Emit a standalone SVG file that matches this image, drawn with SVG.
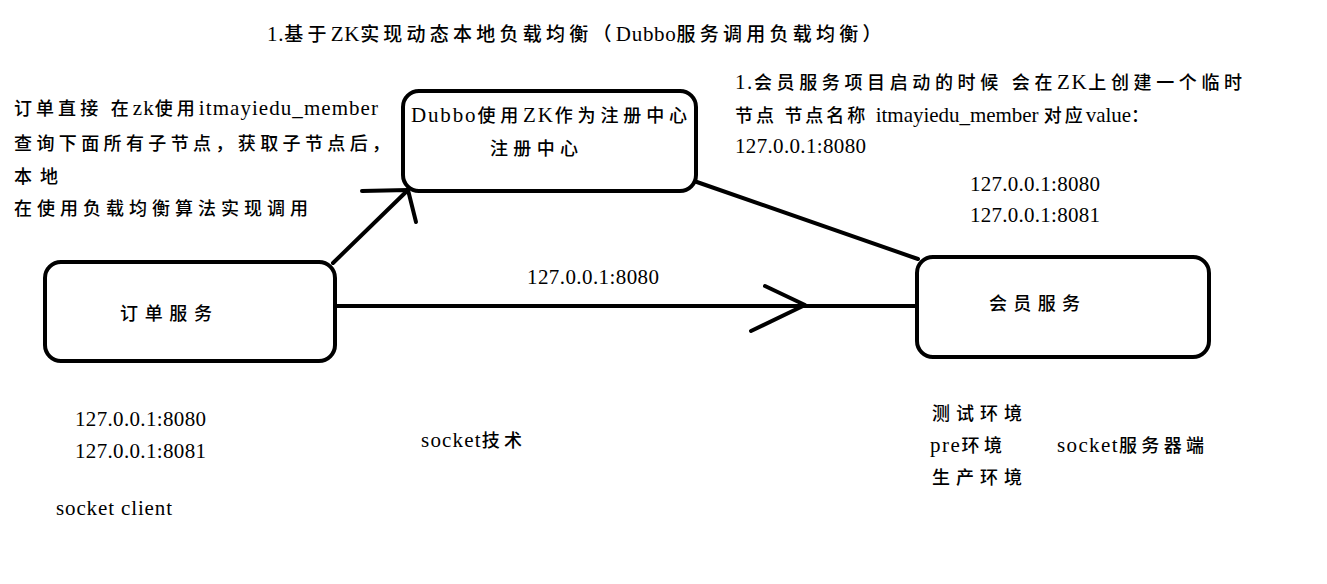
<svg xmlns="http://www.w3.org/2000/svg" width="1327" height="584" viewBox="0 0 1327 584">
<style>
.box{fill:#fff;stroke:#000;stroke-width:4}
.ln{fill:none;stroke:#000;stroke-width:4;stroke-linecap:round;stroke-linejoin:round}
text{font-family:"Liberation Serif","Noto Sans CJK SC",serif;font-size:21px;fill:#000}
.cj{font-size:18px;font-weight:500}
.c{font-size:18px;font-weight:500;letter-spacing:3px}
.tc{font-size:19px;font-weight:500;letter-spacing:3.5px}
</style>
<rect width="1327" height="584" fill="#fff"/>
<g id="connectors">
<line class="ln" x1="333" y1="263" x2="408" y2="190"/>
<polyline class="ln" points="362,191 408,190 416,222"/>
<line class="ln" x1="694" y1="181" x2="918" y2="259"/>
<line class="ln" x1="335" y1="306" x2="917" y2="306"/>
<polyline class="ln" points="765,286 805,305 751,331"/>
<text x="527" y="284" textLength="132" lengthAdjust="spacing">127.0.0.1:8080</text>
</g>
<g id="registry">
<rect class="box" x="403" y="91" width="293" height="100" rx="16"/>
<text x="411" y="122" textLength="279" lengthAdjust="spacing">Dubbo<tspan class="c">使用</tspan>ZK<tspan class="c">作为注册中心</tspan></text>
<text class="cj" x="490" y="155" textLength="88" lengthAdjust="spacing">注册中心</text>
</g>
<g id="order">
<rect class="box" x="45" y="262" width="290" height="99" rx="16"/>
<text class="cj" x="120" y="320" textLength="92" lengthAdjust="spacing">订单服务</text>
</g>
<g id="member">
<rect class="box" x="917" y="257" width="292" height="100" rx="16"/>
<text class="cj" x="989" y="310" textLength="91" lengthAdjust="spacing">会员服务</text>
</g>
<g id="labels">
<text x="267" y="41" textLength="618" lengthAdjust="spacing">1.<tspan class="tc">基于</tspan>ZK<tspan class="tc">实现动态本地负载均衡（</tspan>Dubbo<tspan class="tc">服务调用负载均衡）</tspan></text>
<text x="14" y="115" textLength="364" lengthAdjust="spacing"><tspan class="c">订单直接 在</tspan>zk<tspan class="c">使用</tspan>itmayiedu_member</text>
<text class="cj" x="14" y="150" textLength="376" lengthAdjust="spacing">查询下面所有子节点，获取子节点后，</text>
<text class="cj" x="14" y="183" textLength="44" lengthAdjust="spacing">本地</text>
<text class="cj" x="14" y="215" textLength="294" lengthAdjust="spacing">在使用负载均衡算法实现调用</text>
<text x="735" y="89" textLength="510" lengthAdjust="spacing">1.<tspan class="c">会员服务项目启动的时候 会在</tspan>ZK<tspan class="c">上创建一个临时</tspan></text>
<text x="735" y="122" textLength="417" lengthAdjust="spacing"><tspan class="c">节点  节点名称 </tspan>itmayiedu_member <tspan class="c">对应</tspan>value<tspan class="c">：</tspan></text>
<text x="735" y="153" textLength="131" lengthAdjust="spacing">127.0.0.1:8080</text>
<text x="970" y="191" textLength="130" lengthAdjust="spacing">127.0.0.1:8080</text>
<text x="970" y="222" textLength="130" lengthAdjust="spacing">127.0.0.1:8081</text>
<text x="75" y="426" textLength="131" lengthAdjust="spacing">127.0.0.1:8080</text>
<text x="75" y="458" textLength="131" lengthAdjust="spacing">127.0.0.1:8081</text>
<text x="56" y="515" textLength="116" lengthAdjust="spacing">socket client</text>
<text x="421" y="447" textLength="104" lengthAdjust="spacing">socket<tspan class="c">技术</tspan></text>
<text class="cj" x="932" y="420" textLength="90" lengthAdjust="spacing">测试环境</text>
<text x="930" y="452" textLength="75" lengthAdjust="spacing">pre<tspan class="c">环境</tspan></text>
<text x="1057" y="452" textLength="150" lengthAdjust="spacing">socket<tspan class="c">服务器端</tspan></text>
<text class="cj" x="932" y="484" textLength="90" lengthAdjust="spacing">生产环境</text>
</g>
</svg>
